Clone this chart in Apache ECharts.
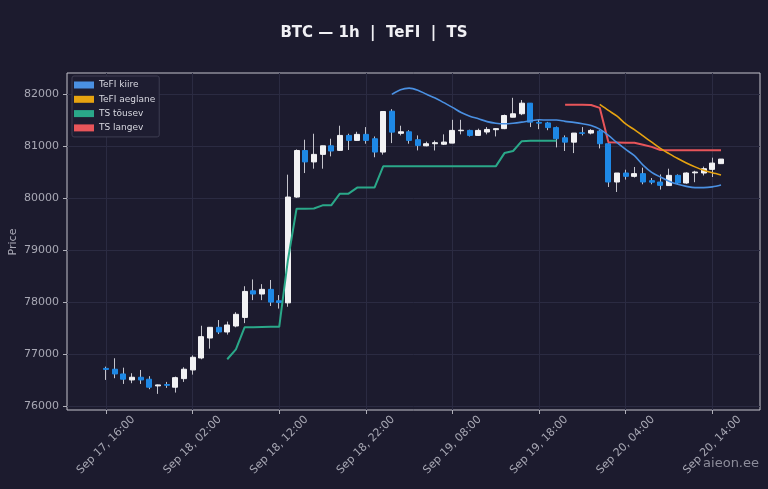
<!DOCTYPE html>
<html>
<head>
<meta charset="utf-8">
<script src="https://cdn.jsdelivr.net/npm/echarts@6/dist/echarts.min.js"></script>
<style>
  html, body { margin: 0; padding: 0; background: #1c1b2e; }
  #main { width: 768px; height: 489px; }
</style>
</head>
<body>
<div id="main"></div>
<script>
// hourly candles, Sep 17 16:00 .. Sep 20 15:00
var opens = [76720,76704,76613,76498,76550,76512,76383,76410,76358,76523,
  76690,76920,77304,77510,77420,77535,77700,78212,78150,78240,
  78020,77980,80015,80910,80690,80835,81000,80912,81200,81104,
  81220,81136,80880,81666,81240,81270,81117,81000,81040,81030,
  81052,81290,81296,81200,81265,81310,81330,81550,81616,81820,
  81450,81440,81350,81155,81070,81250,81245,81283,81040,80304,
  80477,80413,80465,80330,80304,80235,80432,80285,80480,80477,
  80547,80657];
var closes = [76700,76613,76512,76550,76498,76358,76402,76395,76542,76704,
  76934,77330,77510,77420,77555,77760,78200,78150,78240,77995,
  77985,80015,80910,80690,80835,81000,80900,81200,81104,81220,
  81104,80880,81660,81263,81270,81104,81008,81040,81060,81072,
  81296,81300,81200,81296,81315,81330,81583,81616,81820,81455,
  81435,81350,81136,81070,81245,81240,81296,81040,80304,80477,
  80413,80465,80304,80300,80240,80432,80285,80477,80496,80560,
  80668,80745];
var lows = [76498,76531,76421,76435,76421,76320,76230,76345,76255,76460,
  76600,76895,77100,77380,77370,77510,77590,78033,78033,77920,
  77870,77905,80000,80476,80560,80560,80797,80900,80920,81100,
  81040,80780,80830,81052,81200,81040,80912,80990,80910,81015,
  81052,81220,81180,81190,81220,81180,81320,81550,81590,81360,
  81320,81300,80970,80900,80860,81200,81220,80950,80208,80112,
  80350,80390,80260,80260,80158,80235,80260,80270,80300,80430,
  80400,80657];
var highs = [76754,76915,76734,76627,76690,76570,76408,76460,76562,76742,
  76970,77540,77510,77650,77620,77800,78300,78430,78340,78420,
  78130,80445,80930,81117,81232,81000,81136,81386,81232,81270,
  81360,81180,81660,81705,81386,81300,81200,81080,81100,81220,
  81500,81500,81310,81330,81360,81335,81600,81923,81880,81820,
  81500,81460,81370,81200,81245,81360,81320,81300,81070,80477,
  80540,80593,80580,80380,80450,80560,80450,80490,80520,80600,
  80772,80745];

// indicator lines (first candle index where each starts)
var tefiFastFrom = 33;
var tefiFast = [81990,82080,82110,82070,81990,81920,81830,81740,81640,81570,
  81520,81465,81435,81425,81435,81455,81480,81500,81495,81495,
  81470,81450,81425,81390,81320,81200,81060,80930,80810,80630,
  80490,80400,80320,80260,80220,80195,80195,80210,80245];
var tefiSlowFrom = 57;
var tefiSlow = [81795,81680,81570,81420,81310,81190,81070,80950,80850,80755,
  80670,80595,80530,80480,80440];
var tsUpFrom = 14;
var tsUp = [76896,77087,77510,77510,77515,77520,77520,78800,79790,79790,
  79795,79855,79855,80080,80080,80196,80196,80196,80605,80605,
  80605,80605,80605,80605,80605,80605,80605,80605,80605,80605,
  80605,80605,80860,80900,81090,81095,81095,81095,81095];
var tsDownFrom = 53;
var tsDown = [81790,81790,81790,81785,81730,81070,81065,81060,81060,81020,
  80980,80920,80915,80915,80915,80915,80915,80915,80915];

var xTickLabels = ['Sep 17, 16:00','Sep 18, 02:00','Sep 18, 12:00','Sep 18, 22:00',
  'Sep 19, 08:00','Sep 19, 18:00','Sep 20, 04:00','Sep 20, 14:00'];
var yTicks = [76000,77000,78000,79000,80000,81000,82000];

var PAD = 4;
var n = opens.length;

function hourLabel(k) {
  var t = 16 + k;
  var day = 17 + Math.floor(t / 24);
  var hh = ((t % 24) + 24) % 24;
  return 'Sep ' + day + ', ' + (hh < 10 ? '0' : '') + hh + ':00';
}
var categories = [];
for (var k = -PAD; k < n + PAD; k++) categories.push(hourLabel(k));

function padLine(from, arr) {
  var out = [];
  for (var i = 0; i < PAD + from; i++) out.push(null);
  out = out.concat(arr);
  while (out.length < categories.length) out.push(null);
  return out;
}

var wickData = [], bodyData = [];
for (var i = 0; i < PAD; i++) { wickData.push('-'); bodyData.push('-'); }
for (var i = 0; i < n; i++) {
  wickData.push([opens[i], closes[i], lows[i], highs[i]]);
  bodyData.push([opens[i], closes[i], Math.min(opens[i], closes[i]), Math.max(opens[i], closes[i])]);
}
for (var i = 0; i < PAD; i++) { wickData.push('-'); bodyData.push('-'); }

function isTick(index, value) { return xTickLabels.indexOf(value) >= 0; }

var myChart = echarts.init(document.getElementById('main'));
var font = 'DejaVu Sans';
var option = {
  backgroundColor: '#1c1b2e',
  animation: false,
  textStyle: { fontFamily: font },
  graphic: [{
    type: 'text',
    x: 374, y: 33,
    style: { text: 'BTC \u2014 1h  |  TeFI  |  TS', fill: '#f0f0f4', font: 'bold 15px "DejaVu Sans"',
      textAlign: 'center', textVerticalAlign: 'middle' }
  }, {
    type: 'text',
    x: 759, y: 464,
    style: { text: 'aieon.ee', fill: '#8c8c9a', font: '13px "DejaVu Sans"',
      textAlign: 'right', textVerticalAlign: 'middle' }
  }, {
    type: 'text',
    x: 13, y: 242,
    rotation: Math.PI / 2,
    style: { text: 'Price', fill: '#a8a8b4', font: '11px "DejaVu Sans"',
      textAlign: 'center', textVerticalAlign: 'middle' }
  }],
  legend: {
    data: ['TeFI kiire', 'TeFI aeglane', 'TS tõusev', 'TS langev'],
    orient: 'vertical',
    left: 72, top: 76,
    icon: 'rect',
    itemWidth: 20, itemHeight: 7, itemGap: 4.3,
    padding: [4, 4, 4, 2],
    backgroundColor: '#1e1d31',
    borderColor: '#3e3d52', borderWidth: 1, borderRadius: 2,
    textStyle: { color: '#d8d8e0', fontSize: 9, lineHeight: 10, fontFamily: font }
  },
  grid: {
    left: 67, right: 8, top: 73, bottom: 79,
    outerBoundsMode: 'none',
    containLabel: false,
    show: true, borderColor: '#c4c4cc', borderWidth: 1
  },
  xAxis: {
    type: 'category',
    data: categories,
    boundaryGap: true,
    axisLine: { show: false },
    axisTick: { show: true, alignWithLabel: true, interval: isTick, length: 4, lineStyle: { color: '#b0b0ba' } },
    axisLabel: { interval: isTick, rotate: 45, align: 'center', verticalAlign: 'middle', margin: 35,
      color: '#a8a8b4', fontSize: 11, fontFamily: font },
    splitLine: { show: true, alignWithLabel: true, interval: isTick, lineStyle: { color: '#2b2b42', width: 1 } }
  },
  yAxis: {
    type: 'value',
    min: 75920, max: 82400,
    axisLine: { show: false },
    axisTick: { show: true, length: 4, customValues: yTicks, lineStyle: { color: '#b0b0ba' } },
    axisLabel: { customValues: yTicks, color: '#a8a8b4', fontSize: 11, margin: 8, fontFamily: font,
      formatter: function (v) { return String(v); } },
    splitLine: { show: true, customValues: yTicks, lineStyle: { color: '#2b2b42', width: 1 } }
  },
  series: [{
    name: 'wick',
    type: 'candlestick',
    data: wickData,
    barWidth: 1,
    itemStyle: { color: '#c4c4cc', color0: '#c4c4cc', borderColor: '#c4c4cc', borderColor0: '#c4c4cc', borderWidth: 1 }
  }, {
    name: 'body',
    type: 'candlestick',
    data: bodyData,
    barWidth: 5.5,
    itemStyle: { color: '#f2f2f4', color0: '#1e88e5', borderColor: '#f2f2f4', borderColor0: '#1e88e5', borderWidth: 1 }
  }, {
    name: 'TS tõusev',
    type: 'line',
    data: padLine(tsUpFrom, tsUp),
    showSymbol: false,
    itemStyle: { color: '#2aa889' },
    lineStyle: { color: '#2aa889', width: 2 }
  }, {
    name: 'TS langev',
    type: 'line',
    data: padLine(tsDownFrom, tsDown),
    showSymbol: false,
    itemStyle: { color: '#e8555a' },
    lineStyle: { color: '#e8555a', width: 2 }
  }, {
    name: 'TeFI kiire',
    type: 'line',
    data: padLine(tefiFastFrom, tefiFast),
    showSymbol: false,
    smooth: 0.3,
    itemStyle: { color: '#4a90e2' },
    lineStyle: { color: '#4a90e2', width: 1.6 }
  }, {
    name: 'TeFI aeglane',
    type: 'line',
    data: padLine(tefiSlowFrom, tefiSlow),
    showSymbol: false,
    smooth: 0.3,
    itemStyle: { color: '#e6a310' },
    lineStyle: { color: '#e6a310', width: 1.6 }
  }]
};
myChart.setOption(option);
</script>
</body>
</html>
